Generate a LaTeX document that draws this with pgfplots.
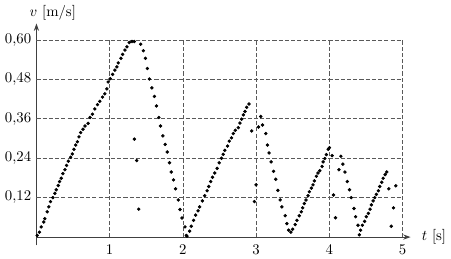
\documentclass[border=0pt]{standalone}
\usepackage{pgfplots}
\pgfplotsset{compat=1.18}
\usetikzlibrary{arrows.meta}
\begin{document}
\begin{tikzpicture}
\begin{axis}[
 scale only axis,
 width=253pt, height=150pt,
 xmin=0, xmax=5.11, ymin=-0.025, ymax=0.65,
 axis lines=middle,
 axis line style={black!75, line width=0.6pt, -{Stealth[length=5pt,width=3.5pt]}},
 xtick={1,2,3,4,5}, ytick={0.12,0.24,0.36,0.48,0.6},
 major tick length=0pt,
 xticklabel style={yshift=-1.5pt},
 yticklabel style={/pgf/number format/.cd, fixed, fixed zerofill, precision=2, use comma},
 xlabel={$t$ [s]}, ylabel={$v$ [m/s]},
 xlabel style={anchor=west, xshift=4pt},
 ylabel style={anchor=south, xshift=11pt, yshift=-1pt},
 clip=false,
]
\pgfplotsinvokeforeach{1,2,3,4,5}{\draw[black!65, line width=0.5pt, dash pattern=on 2.8pt off 1.4pt] (axis cs:#1,0) -- (axis cs:#1,0.6);}
\pgfplotsinvokeforeach{0.12,0.24,0.36,0.48,0.6}{\draw[black!65, line width=0.5pt, dash pattern=on 2.8pt off 1.4pt] (axis cs:0,#1) -- (axis cs:5,#1);}
\addplot[only marks, mark=*, mark size=0.95pt, black] coordinates {
(0.010,0.005)(0.041,0.015)(0.065,0.031)(0.100,0.046)(0.114,0.056)(0.147,0.077)(0.169,0.092)(0.192,0.108)(0.224,0.120)(0.251,0.133)
(0.271,0.144)(0.298,0.157)(0.316,0.169)(0.339,0.179)(0.361,0.193)(0.389,0.205)(0.412,0.218)(0.435,0.231)(0.467,0.243)(0.490,0.253)
(0.512,0.267)(0.536,0.280)(0.559,0.290)(0.581,0.305)(0.604,0.318)(0.636,0.328)(0.663,0.338)(0.705,0.346)(0.732,0.364)(0.765,0.374)
(0.797,0.390)(0.834,0.403)(0.865,0.413)(0.902,0.426)(0.934,0.436)(0.962,0.451)(0.979,0.472)(1.007,0.482)(1.040,0.495)(1.071,0.508)
(1.099,0.518)(1.117,0.530)(1.154,0.544)(1.177,0.556)(1.209,0.569)(1.236,0.579)(1.268,0.592)(1.305,0.595)(1.337,0.595)
(1.337,0.298)(1.369,0.233)(1.397,0.085)
(1.424,0.587)(1.460,0.567)(1.488,0.544)(1.515,0.513)(1.542,0.481)(1.576,0.454)(1.611,0.428)(1.639,0.399)(1.672,0.364)(1.694,0.338)
(1.727,0.308)(1.758,0.282)(1.786,0.259)(1.817,0.226)(1.841,0.198)(1.872,0.174)(1.900,0.147)(1.937,0.113)(1.960,0.084)(1.988,0.058)
(2.029,0.031)(2.047,0.005)
(2.056,0.003)(2.092,0.018)(2.115,0.033)(2.146,0.051)(2.174,0.067)(2.207,0.080)(2.229,0.092)(2.266,0.110)(2.298,0.126)(2.331,0.141)
(2.353,0.154)(2.380,0.169)(2.404,0.182)(2.435,0.195)(2.468,0.209)(2.496,0.226)(2.527,0.240)(2.550,0.252)(2.572,0.264)(2.610,0.277)
(2.633,0.292)(2.664,0.302)(2.688,0.315)(2.716,0.325)(2.757,0.333)(2.779,0.347)(2.802,0.359)(2.826,0.372)(2.848,0.382)(2.871,0.395)
(2.903,0.405)
(2.940,0.323)(2.999,0.159)(2.977,0.108)
(3.032,0.335)(3.063,0.367)(3.087,0.341)(3.132,0.315)(3.155,0.280)(3.177,0.256)(3.205,0.229)(3.238,0.200)(3.269,0.176)(3.297,0.142)
(3.328,0.113)(3.352,0.092)(3.397,0.065)(3.420,0.041)(3.444,0.021)(3.475,0.015)
(3.499,0.024)(3.534,0.038)(3.558,0.051)(3.589,0.065)(3.617,0.077)(3.636,0.089)(3.658,0.102)(3.681,0.113)(3.709,0.126)(3.727,0.138)
(3.754,0.149)(3.777,0.159)(3.795,0.171)(3.823,0.185)(3.846,0.195)(3.870,0.202)(3.901,0.215)(3.915,0.229)(3.938,0.239)(3.960,0.251)
(3.984,0.267)(4.001,0.272)
(4.038,0.248)(4.057,0.128)(4.084,0.059)(4.131,0.205)
(4.158,0.246)(4.185,0.222)(4.213,0.198)(4.245,0.169)(4.276,0.144)(4.299,0.120)(4.337,0.087)(4.359,0.062)(4.392,0.036)(4.410,0.007)
(4.427,0.021)(4.451,0.036)(4.482,0.048)(4.505,0.062)(4.533,0.072)(4.556,0.085)(4.574,0.098)(4.598,0.110)(4.620,0.120)(4.643,0.130)
(4.670,0.141)(4.688,0.154)(4.716,0.167)(4.735,0.179)(4.762,0.190)(4.784,0.198)
(4.812,0.147)(4.845,0.033)(4.876,0.089)(4.908,0.156)
};
\end{axis}
\end{tikzpicture}
\end{document}
